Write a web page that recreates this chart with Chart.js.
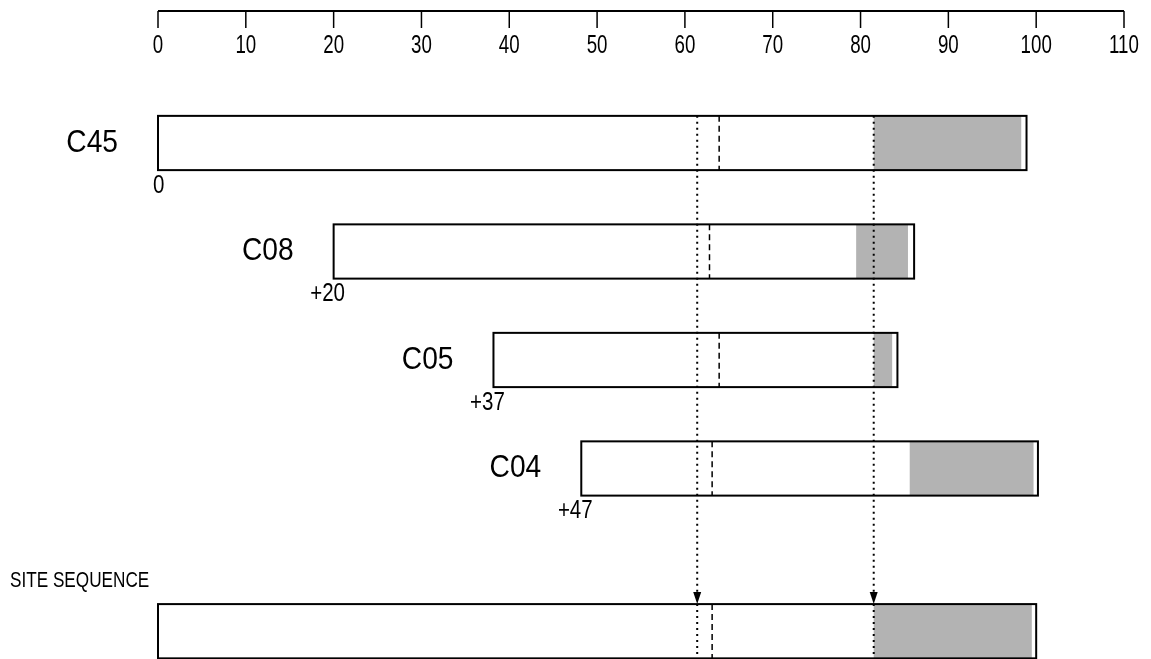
<!DOCTYPE html>
<html>
<head>
<meta charset="utf-8">
<script src="https://cdn.jsdelivr.net/npm/chart.js@4"></script>
<style>
  html, body { margin: 0; padding: 0; background: #fff; }
  #wrap { width: 1151px; height: 659px; }
</style>
</head>
<body>
<div id="wrap"><canvas id="mapChart"></canvas></div>
<script>
// rows, top to bottom
const rowNames = ['C45', 'C08', 'C05', 'C04', 'SITE SEQUENCE'];
const rowPos = [0, 1, 2, 3, 4.5];
const offsetLabels = ['0', '+20', '+37', '+47', ''];
const barStart = [0, 20, 38.2, 48.2, 0];
const barEnd = [98.9, 86.1, 84.2, 100.2, 100];
const grayStart = [81.5, 79.5, 81.5, 85.6, 81.5];
const grayEnd = [98.3, 85.4, 83.6, 99.7, 99.5];
const dashedAt = [63.9, 62.8, 63.9, 63.1, 63.1];
const dottedAt = [61.4, 81.5];
const tickValues = [0, 10, 20, 30, 40, 50, 60, 70, 80, 90, 100, 110];

const font = '"Liberation Sans", Arial, sans-serif';

// condensed text: squeeze horizontally around the anchor point
function narrowText(ctx, text, x, y, sx) {
    ctx.save();
    ctx.translate(x, y);
    ctx.scale(sx, 1);
    ctx.fillText(text, 0, 0);
    ctx.restore();
}

const mapPlugin = {
    id: 'mapPlugin',
    afterDraw: function(chart) {
        const ctx = chart.ctx;
        const xs = chart.scales.x;
        const ys = chart.scales.y;
        const half = ys.getPixelForValue(0.25) - ys.getPixelForValue(0);
        ctx.save();

        // top ruler
        const axisY = 11;
        ctx.strokeStyle = '#000';
        ctx.lineWidth = 2;
        ctx.beginPath();
        ctx.moveTo(xs.getPixelForValue(0), axisY);
        ctx.lineTo(xs.getPixelForValue(110), axisY);
        ctx.stroke();
        ctx.lineWidth = 1.5;
        ctx.fillStyle = '#000';
        ctx.font = '26px ' + font;
        ctx.textAlign = 'center';
        ctx.textBaseline = 'middle';
        tickValues.forEach(function(v) {
            const px = xs.getPixelForValue(v);
            ctx.beginPath();
            ctx.moveTo(px, axisY);
            ctx.lineTo(px, 28);
            ctx.stroke();
            narrowText(ctx, String(v), px, 46, 0.72);
        });

        // bars
        rowNames.forEach(function(name, i) {
            const cy = ys.getPixelForValue(rowPos[i]);
            const x0 = xs.getPixelForValue(barStart[i]);
            const x1 = xs.getPixelForValue(barEnd[i]);
            const g0 = xs.getPixelForValue(grayStart[i]);
            const g1 = xs.getPixelForValue(grayEnd[i]);
            ctx.fillStyle = '#fff';
            ctx.fillRect(x0, cy - half, x1 - x0, half * 2);
            ctx.fillStyle = '#b3b3b3';
            ctx.fillRect(g0, cy - half, g1 - g0, half * 2);
            ctx.strokeStyle = '#000';
            ctx.lineWidth = 2;
            ctx.setLineDash([]);
            ctx.strokeRect(x0, cy - half, x1 - x0, half * 2);

            // dashed marker
            const dx = xs.getPixelForValue(dashedAt[i]);
            ctx.lineWidth = 1.5;
            ctx.setLineDash([6, 4]);
            ctx.beginPath();
            ctx.moveTo(dx, cy - half);
            ctx.lineTo(dx, cy + half);
            ctx.stroke();
            ctx.setLineDash([]);

            ctx.fillStyle = '#000';
            if (i < 4) {
                ctx.font = '32px ' + font;
                ctx.textAlign = 'right';
                ctx.textBaseline = 'middle';
                narrowText(ctx, name, x0 - 40, cy, 0.88);
                ctx.font = '25px ' + font;
                ctx.textAlign = i === 0 ? 'left' : 'center';
                ctx.textBaseline = 'top';
                narrowText(ctx, offsetLabels[i], i === 0 ? x0 - 5 : x0 - 6, cy + half + 3, 0.82);
            } else {
                ctx.font = '22px ' + font;
                ctx.textAlign = 'left';
                ctx.textBaseline = 'middle';
                narrowText(ctx, name, 10, cy - 50, 0.78);
            }
        });

        // dotted guide lines with arrows
        const yTop = ys.getPixelForValue(rowPos[0]) - half;
        const yBot = ys.getPixelForValue(rowPos[4]) - half;
        const yBotEnd = ys.getPixelForValue(rowPos[4]) + half;
        dottedAt.forEach(function(v) {
            const px = xs.getPixelForValue(v);
            ctx.strokeStyle = '#000';
            ctx.lineWidth = 2;
            ctx.setLineDash([2, 4]);
            ctx.beginPath();
            ctx.moveTo(px, yTop);
            ctx.lineTo(px, yBot - 10);
            ctx.stroke();
            ctx.beginPath();
            ctx.moveTo(px, yBot);
            ctx.lineTo(px, yBotEnd);
            ctx.stroke();
            ctx.setLineDash([]);
            ctx.fillStyle = '#000';
            ctx.beginPath();
            ctx.moveTo(px - 4, yBot - 12);
            ctx.lineTo(px + 4, yBot - 12);
            ctx.lineTo(px, yBot);
            ctx.closePath();
            ctx.fill();
        });
        ctx.restore();
    }
};

new Chart(document.getElementById('mapChart').getContext('2d'), {
    type: 'scatter',
    data: { datasets: [{ data: [] }] },
    options: {
        responsive: true,
        maintainAspectRatio: false,
        animation: false,
        layout: { padding: { left: 158, right: 27, top: 0, bottom: 0 } },
        plugins: { legend: { display: false }, tooltip: { enabled: false } },
        scales: {
            x: { type: 'linear', min: 0, max: 110, display: false },
            y: { type: 'linear', reverse: true, min: -1.318, max: 4.756, display: false }
        }
    },
    plugins: [mapPlugin]
});
</script>
</body>
</html>
